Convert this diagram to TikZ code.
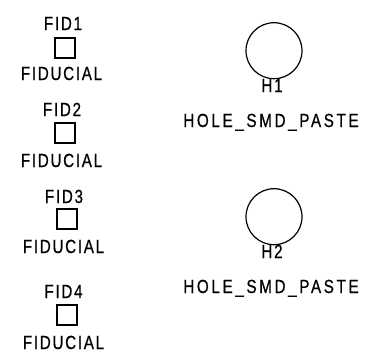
\documentclass[tikz,border=0pt]{standalone}
\usepackage{fontspec}
\setmainfont{Liberation Sans}
\newfontfamily\cadfont[FakeStretch=0.8,LetterSpace=9,FakeBold=0.6]{Liberation Sans}
\newfontfamily\cadwidefont[FakeStretch=0.8,LetterSpace=14,FakeBold=0.6]{Liberation Sans}
\tikzset{
  x=1pt,y=-1pt,
  caption/.style={anchor=base,inner sep=0pt,outer sep=0pt,font=\cadfont\fontsize{19}{19}\selectfont,text=black},
  widecaption/.style={caption,font=\cadwidefont\fontsize{19}{19}\selectfont},
  padbox/.style={draw=black,line width=1.2pt,fill=white,minimum size=20pt,inner sep=0pt,outer sep=0pt},
  holecirc/.style={circle,draw=black,line width=1.2pt,minimum size=56pt,inner sep=0pt,outer sep=0pt}
}
\begin{document}
\begin{tikzpicture}
\useasboundingbox (0,0) rectangle (377,360);
\node[padbox] (p1) at (65,48) {};
\node[padbox] (p2) at (65,133) {};
\node[padbox] (p3) at (67,219) {};
\node[padbox] (p4) at (67,315) {};
\node[holecirc] (c1) at (274,50.7) {};
\node[holecirc] (c2) at (274,216.7) {};
\node[caption] (t1) at (63,30) {FID1};
\node[caption] (t2) at (62,116) {FID2};
\node[caption] (t3) at (64,203) {FID3};
\node[caption] (t4) at (63.5,298) {FID4};
\node[caption] (f1) at (61.5,80) {FIDUCIAL};
\node[caption] (f2) at (61.5,167) {FIDUCIAL};
\node[caption] (f3) at (63.5,253) {FIDUCIAL};
\node[caption] (f4) at (63.5,349) {FIDUCIAL};
\node[caption] (h1) at (272,92) {H1};
\node[caption] (h2) at (272,258) {H2};
\node[widecaption] (s1) at (271,127) {HOLE\_SMD\_PASTE};
\node[widecaption] (s2) at (271,293) {HOLE\_SMD\_PASTE};
\end{tikzpicture}
\end{document}
